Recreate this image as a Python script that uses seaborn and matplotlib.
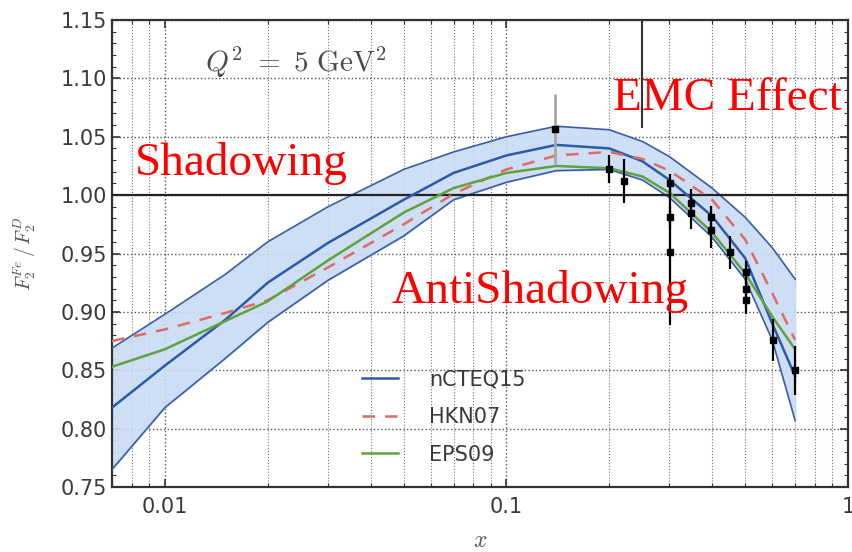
import numpy as np
import pandas as pd
import matplotlib
matplotlib.use('Agg')
import matplotlib.pyplot as plt
import seaborn as sns
from matplotlib.ticker import FixedLocator, MultipleLocator, NullFormatter

# Fe/D structure function ratio at Q^2 = 5 GeV^2
x_grid = [0.007, 0.01, 0.015, 0.02, 0.03, 0.05, 0.07, 0.1, 0.14, 0.2, 0.25, 0.3, 0.4, 0.5, 0.6, 0.7]

ncteq_central = [0.818, 0.854, 0.893, 0.925, 0.959, 0.996, 1.019, 1.034, 1.043, 1.040, 1.029, 1.013, 0.982, 0.946, 0.890, 0.845]
ncteq_upper = [0.869, 0.898, 0.932, 0.960, 0.990, 1.022, 1.037, 1.050, 1.059, 1.056, 1.046, 1.033, 1.006, 0.981, 0.955, 0.928]
ncteq_lower = [0.765, 0.818, 0.860, 0.891, 0.927, 0.965, 0.996, 1.011, 1.021, 1.022, 1.013, 0.998, 0.964, 0.928, 0.876, 0.807]
hkn07 = [0.875, 0.885, 0.899, 0.910, 0.938, 0.975, 1.001, 1.022, 1.034, 1.037, 1.031, 1.021, 0.996, 0.962, 0.916, 0.876]
eps09 = [0.853, 0.868, 0.892, 0.909, 0.944, 0.985, 1.006, 1.019, 1.025, 1.023, 1.016, 1.002, 0.968, 0.933, 0.896, 0.868]

# measured points
data_x = [0.139, 0.20, 0.221, 0.302, 0.302, 0.302, 0.348, 0.348, 0.398, 0.398, 0.452, 0.503, 0.503, 0.503, 0.604, 0.70]
data_y = [1.057, 1.022, 1.012, 1.010, 0.981, 0.951, 0.993, 0.985, 0.981, 0.970, 0.951, 0.934, 0.920, 0.910, 0.876, 0.850]
data_err = [0.030, 0.012, 0.019, 0.008, 0.010, 0.062, 0.012, 0.014, 0.010, 0.015, 0.014, 0.010, 0.010, 0.012, 0.018, 0.021]

x_ticks = [0.01, 0.1, 1]
x_tick_labels = ['0.01', '0.1', '1']
y_ticks = [0.75, 0.80, 0.85, 0.90, 0.95, 1.00, 1.05, 1.10, 1.15]

curves = pd.DataFrame({'x': x_grid, 'central': ncteq_central, 'upper': ncteq_upper,
                       'lower': ncteq_lower, 'hkn': hkn07, 'eps': eps09})

band_edge = '#3a5ea6'
text_grey = '#3a3a3a'

plt.rcParams['mathtext.fontset'] = 'cm'

fig = plt.figure(figsize=(8.53, 5.52), dpi=100)
ax = fig.add_axes([112/853, 1 - 487/552, 736/853, 467/552])
ax.set_xscale('log')

# nCTEQ15 error band
ax.fill_between(curves['x'], curves['lower'], curves['upper'], color='#c9dbf3', alpha=0.9, zorder=2)
sns.lineplot(data=curves, x='x', y='upper', ax=ax, color=band_edge, lw=1.2, zorder=3)
sns.lineplot(data=curves, x='x', y='lower', ax=ax, color=band_edge, lw=1.2, zorder=3)

sns.lineplot(data=curves, x='x', y='central', ax=ax, color='#2b5aa8', lw=1.8, label='nCTEQ15', zorder=4)
sns.lineplot(data=curves, x='x', y='hkn', ax=ax, color='#e06a66', lw=1.8, label='HKN07', zorder=4)
ax.lines[-1].set_dashes([5, 4])
sns.lineplot(data=curves, x='x', y='eps', ax=ax, color='#62a13f', lw=1.8, label='EPS09', zorder=4)

# data with error bars (first point drawn with a grey bar)
ax.errorbar(data_x[:1], data_y[:1], yerr=data_err[:1], fmt='s', color='black', ecolor='#a8a8a8',
            ms=4, elinewidth=2, capsize=0, zorder=5)
ax.errorbar(data_x[1:], data_y[1:], yerr=data_err[1:], fmt='s', color='black', ecolor='black',
            ms=4, elinewidth=1.6, capsize=0, zorder=5)

ax.axhline(1.0, color='#222222', lw=1.6, zorder=3)
ax.axvline(0.25, ymin=(1.058 - 0.75) / 0.40, ymax=1.0, color='#333333', lw=1.5, zorder=3)

ax.set_xlim(0.007, 1.0)
ax.set_ylim(0.75, 1.15)
ax.xaxis.set_major_locator(FixedLocator(x_ticks))
ax.set_xticklabels(x_tick_labels)
ax.xaxis.set_minor_formatter(NullFormatter())
ax.yaxis.set_major_locator(FixedLocator(y_ticks))
ax.set_yticklabels([f'{v:.2f}' for v in y_ticks])
ax.yaxis.set_minor_locator(MultipleLocator(0.01))

ax.tick_params(which='both', direction='in', top=True, right=True, colors='#333333',
               labelcolor=text_grey, labelsize=15)
ax.tick_params(which='major', length=6, width=1.2)
ax.tick_params(which='minor', length=3, width=0.8)
ax.tick_params(axis='x', pad=7)

ax.grid(True, which='major', linestyle=':', color='#555555', lw=1.0)
ax.grid(True, which='minor', axis='x', linestyle=':', color='#777777', lw=0.8)

for side in ax.spines.values():
    side.set_color('#333333')
    side.set_linewidth(1.6)

ax.set_xlabel(r'$x$', fontsize=17, color='#555555', labelpad=8)
ax.set_ylabel(r'$F_2^{Fe}\,/\,F_2^{D}$', fontsize=14, color='#555555', labelpad=16)

ax.text(0.126, 0.889, r'$Q^2\ =\ 5\ \mathrm{GeV}^2$', transform=ax.transAxes,
        fontsize=21, color='#4a4a4a', va='baseline')

red_font = dict(family='Liberation Serif', fontsize=34, color='#ff0000', va='baseline')
ax.text(0.031, 0.668, 'Shadowing', transform=ax.transAxes, zorder=6, **red_font)
ax.text(0.681, 0.807, 'EMC Effect', transform=ax.transAxes, zorder=6, **red_font)
ax.text(0.380, 0.394, 'AntiShadowing', transform=ax.transAxes, zorder=6, **red_font)

ax.legend(loc='center left', bbox_to_anchor=((362 - 112) / 736, 1 - 397 / 467), frameon=False,
          fontsize=15, handlelength=1.75, handletextpad=1.45, labelspacing=0.85,
          borderpad=0, borderaxespad=0, labelcolor=text_grey)

fig.savefig('out.png', dpi=100)
